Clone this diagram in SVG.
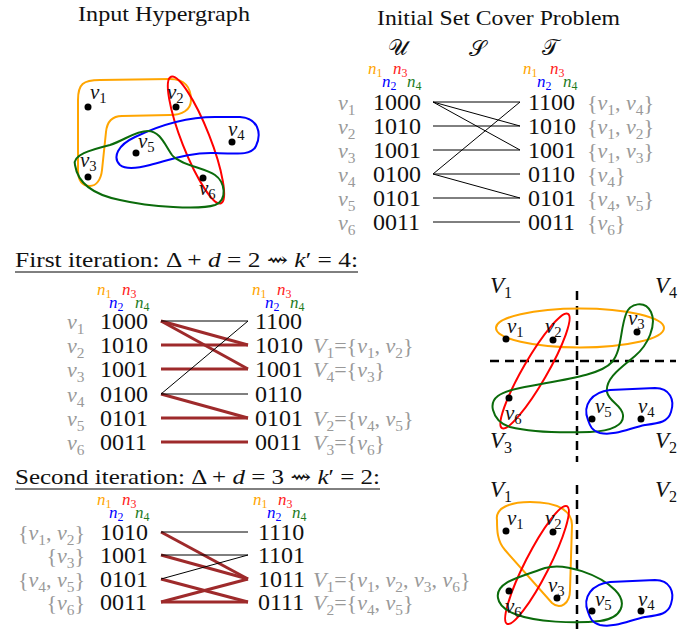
<svg xmlns="http://www.w3.org/2000/svg" width="691" height="632" viewBox="0 0 691 632">
<style>
text{font-family:"Liberation Serif","DejaVu Serif",serif;fill:#111}
.title{font-size:21px}
.bits{font-size:24px}
.lab{font-size:22px;fill:#999}
.i{font-style:italic}
.sb{font-size:70%;font-style:normal}
.n{font-size:17px;font-style:italic}
.pt{font-size:21px}
.V{font-size:23px}
.cal{font-size:22px;font-style:normal;font-weight:normal}
.hy{fill:none;stroke-width:2}
.o{stroke:#FFA500}.r{stroke:#FF0000}.b{stroke:#0000FF}.gr{stroke:#0B6B0B}
.fo{fill:#FFA500}.fr{fill:#FF2020}.fb{fill:#0000FF}.fg{fill:#1E7B1E}
.bl{stroke:#000;stroke-width:1}
.rd{stroke:#9E2A2B;stroke-width:3}
.dash{stroke:#000;stroke-width:2.5;stroke-dasharray:9,6}
</style>

<!-- Input hypergraph -->
<g id="input-hypergraph">
<text class="title" x="78" y="21" textLength="172" lengthAdjust="spacingAndGlyphs">Input Hypergraph</text>
<path class="hy o" d="M78,100 C78,84 83,80 100,80 L170,79 C185,79 191,88 191,100 C191,110 182,115 170,115 L122,116 C112,116 107,122 106,132 L102,170 C101,180 96,186 90,186 C82,186 78,180 78,170 Z"/>
<ellipse class="hy r" cx="196" cy="140" rx="14" ry="68" transform="rotate(-21.5 196 140)"/>
<path class="hy b" d="M120,165 C112,157 118,145 135,137 C160,125 185,117 215,117 L240,117 C258,118 262,133 256,146 C252,155 240,154 215,153 C190,152 170,160 150,165 C135,169 125,169 120,165 Z"/>
<path class="hy gr" d="M75,165 C72,155 90,150 110,145 C125,140 135,131 148,131 C160,131 165,145 172,155 C180,165 205,168 215,175 C225,182 228,200 215,205 C200,210 150,207 120,200 C95,195 78,185 75,165 Z"/>
<circle cx="88" cy="107" r="3.5"/><circle cx="176" cy="107" r="3.5"/><circle cx="232" cy="142" r="3.5"/>
<circle cx="136" cy="153" r="3.5"/><circle cx="88" cy="177" r="3.5"/><circle cx="203" cy="178" r="3.5"/>
<text class="pt" x="90" y="99"><tspan class="i">v</tspan><tspan class="sb" dy="4">1</tspan></text>
<text class="pt" x="167" y="99"><tspan class="i">v</tspan><tspan class="sb" dy="4">2</tspan></text>
<text class="pt" x="228" y="136"><tspan class="i">v</tspan><tspan class="sb" dy="4">4</tspan></text>
<text class="pt" x="138" y="148"><tspan class="i">v</tspan><tspan class="sb" dy="4">5</tspan></text>
<text class="pt" x="80" y="167"><tspan class="i">v</tspan><tspan class="sb" dy="4">3</tspan></text>
<text class="pt" x="199" y="195"><tspan class="i">v</tspan><tspan class="sb" dy="4">6</tspan></text>
</g>

<!-- Initial set cover -->
<g id="initial-set-cover">
<text class="title" x="377" y="25" textLength="243" lengthAdjust="spacingAndGlyphs">Initial Set Cover Problem</text>
<text class="cal" x="398" y="55" text-anchor="middle">𝒰</text>
<text class="cal" x="477" y="56" text-anchor="middle">𝒮</text>
<text class="cal" x="550" y="55" text-anchor="middle">𝒯</text>
<text class="n fo" x="368" y="74">n<tspan class="sb" dy="3">1</tspan></text>
<text class="n fr" x="393" y="74">n<tspan class="sb" dy="3">3</tspan></text>
<text class="n fb" x="382" y="87">n<tspan class="sb" dy="3">2</tspan></text>
<text class="n fg" x="407" y="87">n<tspan class="sb" dy="3">4</tspan></text>
<text class="n fo" x="523" y="74">n<tspan class="sb" dy="3">1</tspan></text>
<text class="n fr" x="550" y="74">n<tspan class="sb" dy="3">3</tspan></text>
<text class="n fb" x="537" y="87">n<tspan class="sb" dy="3">2</tspan></text>
<text class="n fg" x="563" y="87">n<tspan class="sb" dy="3">4</tspan></text>
<text class="lab" x="338" y="110"><tspan class="i">v</tspan><tspan class="sb" dy="5">1</tspan></text>
<text class="lab" x="338" y="134"><tspan class="i">v</tspan><tspan class="sb" dy="5">2</tspan></text>
<text class="lab" x="338" y="158"><tspan class="i">v</tspan><tspan class="sb" dy="5">3</tspan></text>
<text class="lab" x="338" y="182"><tspan class="i">v</tspan><tspan class="sb" dy="5">4</tspan></text>
<text class="lab" x="338" y="206"><tspan class="i">v</tspan><tspan class="sb" dy="5">5</tspan></text>
<text class="lab" x="338" y="230"><tspan class="i">v</tspan><tspan class="sb" dy="5">6</tspan></text>
<text class="bits" x="373" y="110">1000</text>
<text class="bits" x="373" y="134">1010</text>
<text class="bits" x="373" y="158">1001</text>
<text class="bits" x="373" y="182">0100</text>
<text class="bits" x="373" y="206">0101</text>
<text class="bits" x="373" y="230">0011</text>
<text class="bits" x="528" y="110">1100</text>
<text class="bits" x="528" y="134">1010</text>
<text class="bits" x="528" y="158">1001</text>
<text class="bits" x="528" y="182">0110</text>
<text class="bits" x="528" y="206">0101</text>
<text class="bits" x="528" y="230">0011</text>
<text class="lab" x="587" y="110">{<tspan class="i">v</tspan><tspan class="sb" dy="5">1</tspan><tspan dy="-5">, </tspan><tspan class="i">v</tspan><tspan class="sb" dy="5">4</tspan><tspan dy="-5">}</tspan></text>
<text class="lab" x="587" y="134">{<tspan class="i">v</tspan><tspan class="sb" dy="5">1</tspan><tspan dy="-5">, </tspan><tspan class="i">v</tspan><tspan class="sb" dy="5">2</tspan><tspan dy="-5">}</tspan></text>
<text class="lab" x="587" y="158">{<tspan class="i">v</tspan><tspan class="sb" dy="5">1</tspan><tspan dy="-5">, </tspan><tspan class="i">v</tspan><tspan class="sb" dy="5">3</tspan><tspan dy="-5">}</tspan></text>
<text class="lab" x="587" y="182">{<tspan class="i">v</tspan><tspan class="sb" dy="5">4</tspan><tspan dy="-5">}</tspan></text>
<text class="lab" x="587" y="206">{<tspan class="i">v</tspan><tspan class="sb" dy="5">4</tspan><tspan dy="-5">, </tspan><tspan class="i">v</tspan><tspan class="sb" dy="5">5</tspan><tspan dy="-5">}</tspan></text>
<text class="lab" x="587" y="230">{<tspan class="i">v</tspan><tspan class="sb" dy="5">6</tspan><tspan dy="-5">}</tspan></text>
</g>

<!-- First iteration table -->
<g id="first-iteration">
<text class="title" x="15" y="267" textLength="343" lengthAdjust="spacingAndGlyphs">First iteration: Δ + <tspan class="i">d</tspan> = 2 ⇝ <tspan class="i">k</tspan>′ = 4:</text>
<line x1="15" y1="272" x2="358" y2="272" stroke="#000" stroke-width="1"/>
<text class="n fo" x="97" y="295">n<tspan class="sb" dy="3">1</tspan></text>
<text class="n fr" x="122" y="295">n<tspan class="sb" dy="3">3</tspan></text>
<text class="n fb" x="109" y="308">n<tspan class="sb" dy="3">2</tspan></text>
<text class="n fg" x="135" y="308">n<tspan class="sb" dy="3">4</tspan></text>
<text class="n fo" x="252" y="295">n<tspan class="sb" dy="3">1</tspan></text>
<text class="n fr" x="277" y="295">n<tspan class="sb" dy="3">3</tspan></text>
<text class="n fb" x="265" y="308">n<tspan class="sb" dy="3">2</tspan></text>
<text class="n fg" x="290" y="308">n<tspan class="sb" dy="3">4</tspan></text>
<text class="lab" x="67" y="329"><tspan class="i">v</tspan><tspan class="sb" dy="5">1</tspan></text>
<text class="lab" x="67" y="353"><tspan class="i">v</tspan><tspan class="sb" dy="5">2</tspan></text>
<text class="lab" x="67" y="377"><tspan class="i">v</tspan><tspan class="sb" dy="5">3</tspan></text>
<text class="lab" x="67" y="402"><tspan class="i">v</tspan><tspan class="sb" dy="5">4</tspan></text>
<text class="lab" x="67" y="426"><tspan class="i">v</tspan><tspan class="sb" dy="5">5</tspan></text>
<text class="lab" x="67" y="450"><tspan class="i">v</tspan><tspan class="sb" dy="5">6</tspan></text>
<text class="bits" x="100" y="329">1000</text>
<text class="bits" x="100" y="353">1010</text>
<text class="bits" x="100" y="377">1001</text>
<text class="bits" x="100" y="402">0100</text>
<text class="bits" x="100" y="426">0101</text>
<text class="bits" x="100" y="450">0011</text>
<text class="bits" x="255" y="329">1100</text>
<text class="bits" x="255" y="353">1010</text>
<text class="bits" x="255" y="377">1001</text>
<text class="bits" x="255" y="402">0110</text>
<text class="bits" x="255" y="426">0101</text>
<text class="bits" x="255" y="450">0011</text>
<text class="lab" x="313" y="353"><tspan class="i">V</tspan><tspan class="sb" dy="5">1</tspan><tspan dy="-5">={</tspan><tspan class="i">v</tspan><tspan class="sb" dy="5">1</tspan><tspan dy="-5">, </tspan><tspan class="i">v</tspan><tspan class="sb" dy="5">2</tspan><tspan dy="-5">}</tspan></text>
<text class="lab" x="313" y="377"><tspan class="i">V</tspan><tspan class="sb" dy="5">4</tspan><tspan dy="-5">={</tspan><tspan class="i">v</tspan><tspan class="sb" dy="5">3</tspan><tspan dy="-5">}</tspan></text>
<text class="lab" x="313" y="426"><tspan class="i">V</tspan><tspan class="sb" dy="5">2</tspan><tspan dy="-5">={</tspan><tspan class="i">v</tspan><tspan class="sb" dy="5">4</tspan><tspan dy="-5">, </tspan><tspan class="i">v</tspan><tspan class="sb" dy="5">5</tspan><tspan dy="-5">}</tspan></text>
<text class="lab" x="313" y="450"><tspan class="i">V</tspan><tspan class="sb" dy="5">3</tspan><tspan dy="-5">={</tspan><tspan class="i">v</tspan><tspan class="sb" dy="5">6</tspan><tspan dy="-5">}</tspan></text>
</g>

<!-- Second iteration table -->
<g id="second-iteration">
<text class="title" x="15" y="484" textLength="365" lengthAdjust="spacingAndGlyphs">Second iteration: Δ + <tspan class="i">d</tspan> = 3 ⇝ <tspan class="i">k</tspan>′ = 2:</text>
<line x1="15" y1="489" x2="380" y2="489" stroke="#000" stroke-width="1"/>
<text class="n fo" x="97" y="505">n<tspan class="sb" dy="3">1</tspan></text>
<text class="n fr" x="122" y="505">n<tspan class="sb" dy="3">3</tspan></text>
<text class="n fb" x="109" y="518">n<tspan class="sb" dy="3">2</tspan></text>
<text class="n fg" x="135" y="518">n<tspan class="sb" dy="3">4</tspan></text>
<text class="n fo" x="253" y="505">n<tspan class="sb" dy="3">1</tspan></text>
<text class="n fr" x="278" y="505">n<tspan class="sb" dy="3">3</tspan></text>
<text class="n fb" x="267" y="518">n<tspan class="sb" dy="3">2</tspan></text>
<text class="n fg" x="292" y="518">n<tspan class="sb" dy="3">4</tspan></text>
<text class="lab" x="85" y="540" text-anchor="end">{<tspan class="i">v</tspan><tspan class="sb" dy="5">1</tspan><tspan dy="-5">, </tspan><tspan class="i">v</tspan><tspan class="sb" dy="5">2</tspan><tspan dy="-5">}</tspan></text>
<text class="lab" x="85" y="563" text-anchor="end">{<tspan class="i">v</tspan><tspan class="sb" dy="5">3</tspan><tspan dy="-5">}</tspan></text>
<text class="lab" x="85" y="587" text-anchor="end">{<tspan class="i">v</tspan><tspan class="sb" dy="5">4</tspan><tspan dy="-5">, </tspan><tspan class="i">v</tspan><tspan class="sb" dy="5">5</tspan><tspan dy="-5">}</tspan></text>
<text class="lab" x="85" y="610" text-anchor="end">{<tspan class="i">v</tspan><tspan class="sb" dy="5">6</tspan><tspan dy="-5">}</tspan></text>
<text class="bits" x="100" y="540">1010</text>
<text class="bits" x="100" y="563">1001</text>
<text class="bits" x="100" y="587">0101</text>
<text class="bits" x="100" y="610">0011</text>
<text class="bits" x="258" y="540">1110</text>
<text class="bits" x="258" y="563">1101</text>
<text class="bits" x="258" y="587">1011</text>
<text class="bits" x="258" y="610">0111</text>
<text class="lab" x="313" y="587"><tspan class="i">V</tspan><tspan class="sb" dy="5">1</tspan><tspan dy="-5">={</tspan><tspan class="i">v</tspan><tspan class="sb" dy="5">1</tspan><tspan dy="-5">, </tspan><tspan class="i">v</tspan><tspan class="sb" dy="5">2</tspan><tspan dy="-5">, </tspan><tspan class="i">v</tspan><tspan class="sb" dy="5">3</tspan><tspan dy="-5">, </tspan><tspan class="i">v</tspan><tspan class="sb" dy="5">6</tspan><tspan dy="-5">}</tspan></text>
<text class="lab" x="313" y="610"><tspan class="i">V</tspan><tspan class="sb" dy="5">2</tspan><tspan dy="-5">={</tspan><tspan class="i">v</tspan><tspan class="sb" dy="5">4</tspan><tspan dy="-5">, </tspan><tspan class="i">v</tspan><tspan class="sb" dy="5">5</tspan><tspan dy="-5">}</tspan></text>
</g>

<!-- Connectors -->
<g id="connectors">
<line class="bl" x1="433" y1="102" x2="520" y2="102"/>
<line class="bl" x1="433" y1="102" x2="520" y2="126"/>
<line class="bl" x1="433" y1="102" x2="520" y2="150"/>
<line class="bl" x1="433" y1="126" x2="520" y2="126"/>
<line class="bl" x1="433" y1="150" x2="520" y2="150"/>
<line class="bl" x1="433" y1="174" x2="520" y2="102"/>
<line class="bl" x1="433" y1="174" x2="520" y2="174"/>
<line class="bl" x1="433" y1="174" x2="520" y2="198"/>
<line class="bl" x1="433" y1="198" x2="520" y2="198"/>
<line class="bl" x1="433" y1="222" x2="520" y2="222"/>

<line class="rd" x1="161" y1="321" x2="248" y2="345"/>
<line class="rd" x1="161" y1="321" x2="248" y2="369"/>
<line class="rd" x1="161" y1="345" x2="248" y2="345"/>
<line class="rd" x1="161" y1="369" x2="248" y2="369"/>
<line class="rd" x1="161" y1="394" x2="248" y2="418"/>
<line class="rd" x1="161" y1="418" x2="248" y2="418"/>
<line class="rd" x1="161" y1="442" x2="248" y2="442"/>
<line class="bl" x1="161" y1="321" x2="248" y2="321"/>
<line class="bl" x1="161" y1="394" x2="248" y2="321"/>
<line class="bl" x1="161" y1="394" x2="248" y2="394"/>

<line class="rd" x1="161" y1="532" x2="248" y2="579"/>
<line class="rd" x1="161" y1="555" x2="248" y2="579"/>
<line class="rd" x1="161" y1="579" x2="248" y2="602"/>
<line class="rd" x1="161" y1="602" x2="248" y2="579"/>
<line class="rd" x1="161" y1="602" x2="248" y2="602"/>
<line class="bl" x1="161" y1="532" x2="248" y2="532"/>
<line class="bl" x1="161" y1="555" x2="248" y2="555"/>
<line class="bl" x1="161" y1="579" x2="248" y2="555"/>
</g>

<!-- First partition -->
<g id="first-partition">
<line class="dash" x1="577" y1="291" x2="577" y2="462"/>
<line class="dash" x1="490" y1="361" x2="676" y2="361"/>
<ellipse class="hy o" cx="580" cy="328" rx="84" ry="19.5"/>
<ellipse class="hy r" cx="535" cy="371" rx="12" ry="66" transform="rotate(30 535 371)"/>
<path class="hy gr" d="M493,410 C490,398 500,392 520,388 C560,380 600,376 612,362 C622,350 620,330 626,314 C630,303 645,300 651,312 C657,325 648,345 635,356 C622,367 605,378 607,392 C609,402 622,405 623,415 C624,425 612,431 590,432 C560,433 530,432 510,427 C500,424 495,418 493,410 Z"/>
<path class="hy b" d="M588,420 C582,405 592,392 610,390 L655,388 C670,388 675,400 671,412 C668,422 660,423 645,425 C630,428 615,436 600,433 C592,431 590,426 588,420 Z"/>
<circle cx="506" cy="339" r="3.5"/><circle cx="553" cy="340" r="3.5"/><circle cx="637" cy="332" r="3.5"/>
<circle cx="509" cy="398" r="3.5"/><circle cx="592" cy="419" r="3.5"/><circle cx="641" cy="419" r="3.5"/>
<text class="pt" x="507" y="333"><tspan class="i">v</tspan><tspan class="sb" dy="4">1</tspan></text>
<text class="pt" x="545" y="333"><tspan class="i">v</tspan><tspan class="sb" dy="4">2</tspan></text>
<text class="pt" x="628" y="325"><tspan class="i">v</tspan><tspan class="sb" dy="4">3</tspan></text>
<text class="pt" x="505" y="420"><tspan class="i">v</tspan><tspan class="sb" dy="4">6</tspan></text>
<text class="pt" x="595" y="413"><tspan class="i">v</tspan><tspan class="sb" dy="4">5</tspan></text>
<text class="pt" x="638" y="413"><tspan class="i">v</tspan><tspan class="sb" dy="4">4</tspan></text>
<text class="V" x="490" y="293"><tspan class="i">V</tspan><tspan class="sb" dy="5">1</tspan></text>
<text class="V" x="655" y="293"><tspan class="i">V</tspan><tspan class="sb" dy="5">4</tspan></text>
<text class="V" x="490" y="448"><tspan class="i">V</tspan><tspan class="sb" dy="5">3</tspan></text>
<text class="V" x="655" y="448"><tspan class="i">V</tspan><tspan class="sb" dy="5">2</tspan></text>
</g>

<!-- Second partition -->
<g id="second-partition">
<line class="dash" x1="577" y1="485" x2="577" y2="632"/>
<path class="hy o" d="M497,520 C495,508 510,502 530,502 C560,502 572,512 572,525 L570,590 C570,604 560,610 552,603 L505,550 C497,541 497,530 497,520 Z"/>
<ellipse class="hy r" cx="537" cy="565" rx="12" ry="66" transform="rotate(27 537 565)"/>
<path class="hy gr" d="M498,598 C495,582 520,577 545,568 C565,562 600,575 615,590 C628,603 622,618 600,621 C575,624 535,622 515,614 C505,610 499,605 498,598 Z"/>
<path class="hy b" d="M588,612 C582,597 592,584 610,582 L655,580 C670,580 675,592 671,604 C668,614 660,615 645,617 C630,620 615,628 600,625 C592,623 590,618 588,612 Z"/>
<circle cx="506" cy="531" r="3.5"/><circle cx="553" cy="532" r="3.5"/><circle cx="557" cy="598" r="3.5"/>
<circle cx="509" cy="591" r="3.5"/><circle cx="592" cy="611" r="3.5"/><circle cx="641" cy="611" r="3.5"/>
<text class="pt" x="507" y="525"><tspan class="i">v</tspan><tspan class="sb" dy="4">1</tspan></text>
<text class="pt" x="545" y="525"><tspan class="i">v</tspan><tspan class="sb" dy="4">2</tspan></text>
<text class="pt" x="548" y="592"><tspan class="i">v</tspan><tspan class="sb" dy="4">3</tspan></text>
<text class="pt" x="505" y="613"><tspan class="i">v</tspan><tspan class="sb" dy="4">6</tspan></text>
<text class="pt" x="595" y="606"><tspan class="i">v</tspan><tspan class="sb" dy="4">5</tspan></text>
<text class="pt" x="638" y="606"><tspan class="i">v</tspan><tspan class="sb" dy="4">4</tspan></text>
<text class="V" x="490" y="497"><tspan class="i">V</tspan><tspan class="sb" dy="5">1</tspan></text>
<text class="V" x="655" y="497"><tspan class="i">V</tspan><tspan class="sb" dy="5">2</tspan></text>
</g>
</svg>
